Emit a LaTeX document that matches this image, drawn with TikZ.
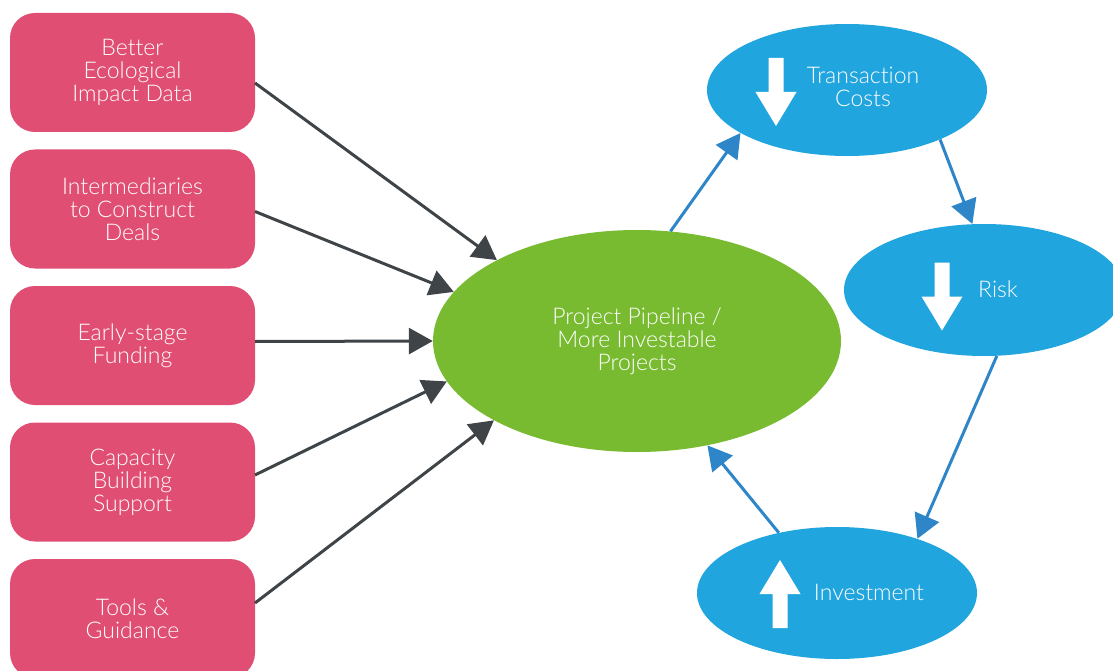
\documentclass[tikz,border=0pt]{standalone}
\usepackage{fontspec}
\setmainfont{Lato}[UprightFont={* Light}, Ligatures=NoCommon]
\usetikzlibrary{arrows.meta, positioning, shapes.geometric, calc}
\definecolor{boxpink}{RGB}{224,79,115}
\definecolor{pipegreen}{RGB}{120,187,48}
\definecolor{effblue}{RGB}{33,165,222}
\definecolor{loopblue}{RGB}{46,134,200}
\definecolor{feedgrey}{RGB}{63,68,72}
\newcommand{\Label}{\fontsize{23}{23}\selectfont}
\tikzset{
    driver/.style={fill=boxpink, rounded corners=25pt, minimum width=245pt, minimum height=119pt,
      inner sep=0pt, outer sep=0pt, text=white, align=center, font=\Label},
    pipeline/.style={ellipse, fill=pipegreen, minimum width=408pt, minimum height=222pt,
      inner sep=0pt, text=white, align=center, font=\Label},
    effect/.style={ellipse, fill=effblue, minimum width=280pt, minimum height=132pt, inner sep=0pt},
    efftext/.style={text=white, align=center, inner sep=0pt, font=\Label},
    feed/.style={draw=feedgrey, line width=3pt, -{Triangle[length=24pt, width=26pt]}},
    loopline/.style={draw=loopblue, line width=3pt, -{Triangle[length=24pt, width=26pt]}},
    blockarrow/.pic={
      \fill[white] (-7.5,-34) -- (7.5,-34) -- (7.5,0) -- (20.5,0) -- (0,34) -- (-20.5,0) -- (-7.5,0) -- cycle;
    },
}

\begin{document}
\begin{tikzpicture}[x=1pt, y=-1pt]
    \tikzset{node distance=17.5pt}
    \useasboundingbox (0,0) rectangle (1113,671);

    % drivers on the left
    \node[driver] (impact) at (132.5,72.5) {Better\\Ecological\\Impact Data};
    \node[driver, below=of impact] (brokers) {Intermediaries\\to Construct\\Deals};
    \node[driver, below=of brokers] (funding) {Early-stage\\Funding};
    \node[driver, below=of funding] (capacity) {Capacity\\Building\\Support};
    \node[driver, below=of capacity] (tools) {Tools \&\\Guidance};

    % centre
    \node[pipeline] (pipe) at (637,341) {Project Pipeline /\\More Investable\\Projects};

    % cycle on the right
    \node[effect] (trans) at (847,90) {};
    \node[effect] (risk) at (984,290) {};
    \node[effect] (invest) at (837,593) {};
    \node[efftext] (transtxt) at (863,87) {Transaction\\Costs};
    \node[efftext] (risktxt) at (998,289) {Risk};
    \node[efftext] (investtxt) at (869,592) {Investment};
    \pic at ($(trans)+(-71,2)$) {blockarrow};
    \pic at ($(risk)+(-42,6.5)$) {blockarrow};
    \pic[rotate=180] at ($(invest)+(-57,1)$) {blockarrow};

    \draw[feed] ([yshift=-10.5pt]impact.east) -- (pipe.150);
    \draw[feed] ([yshift=-2.5pt]brokers.east) -- (pipe.165);
    \draw[feed] ([yshift=4pt]funding.east) -- (pipe.180);
    \draw[feed] ([yshift=7pt]capacity.east) -- (pipe.192);
    \draw[feed] ([yshift=15.5pt]tools.east) -- (pipe.209);

    \draw[loopline] (pipe.73) -- (trans.202);
    \draw[loopline] (trans.-28) -- (risk.100);
    \draw[loopline] (risk.-79) -- (invest.34);
    \draw[loopline] (invest.134) -- (pipe.-56);
\end{tikzpicture}
\end{document}
